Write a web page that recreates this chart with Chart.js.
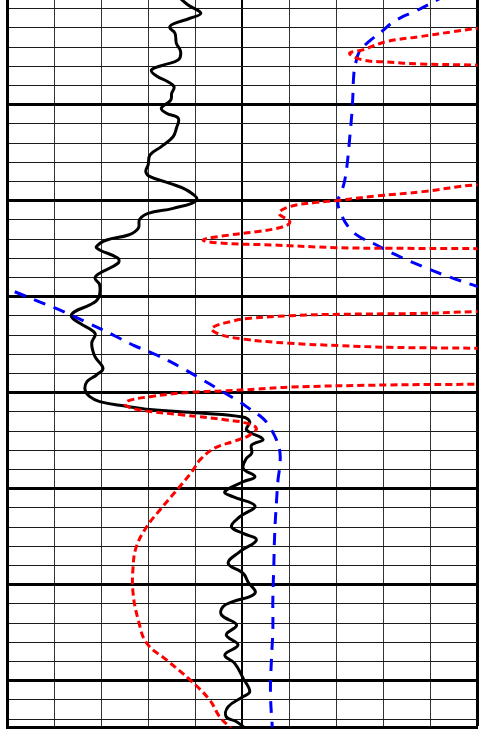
<!DOCTYPE html>
<html>
<head>
<meta charset="utf-8">
<script src="https://cdn.jsdelivr.net/npm/chart.js@4.4.1/dist/chart.umd.min.js"></script>
<style>
  html, body { margin: 0; padding: 0; background: #fff; overflow: hidden; }
  canvas { display: block; }
</style>
</head>
<body>
<canvas id="logChart" width="479" height="729"></canvas>
<script>
// depth window and grid ticks (ft)
const depthTop = 995.5;
const depthBottom = 1374.4;
const depthTicks = [1000, 1010, 1020, 1030, 1040, 1050, 1060, 1070, 1080, 1090,
    1100, 1110, 1120, 1130, 1140, 1150, 1160, 1170, 1180, 1190,
    1200, 1210, 1220, 1230, 1240, 1250, 1260, 1270, 1280, 1290,
    1300, 1310, 1320, 1330, 1340, 1350, 1360, 1370];
const majorDepths = [1050, 1100, 1150, 1200, 1250, 1300, 1350];
const trackTicks = [0, 10, 20, 30, 40, 50, 60, 70, 80, 90, 100];

// black curve (gamma ray), track percent
const grDepth = [994, 998.1, 1002.4, 1005.0, 1008.0, 1009.9, 1012.8, 1018.1, 1022.4, 1026.7,
    1029.4, 1032.0, 1035.1, 1038.1, 1040.7, 1044.1, 1047.6, 1051.9, 1054.5, 1057.1,
    1062.3, 1066.7, 1071.9, 1076.2, 1081.4, 1084.9, 1087.5, 1091.0, 1094.5, 1099.7,
    1104.0, 1106.6, 1109.7, 1114.4, 1117.9, 1120.5, 1124.0, 1125.7, 1130.0, 1132.6,
    1137.8, 1140.4, 1143.9, 1150.9, 1154.3, 1157.8, 1160.4, 1163.9, 1169.1, 1174.3,
    1181.3, 1187.3, 1190.8, 1194.3, 1198.6, 1202.1, 1204.7, 1207.0, 1208.8, 1210.6,
    1212.7, 1215.3, 1219.4, 1224.3, 1227.3, 1231.6, 1234.2, 1239.4, 1243.8, 1246.4,
    1251.6, 1254.2, 1259.0, 1264.6, 1269.8, 1273.3, 1276.7, 1282.8, 1288.9, 1294.1,
    1298.5, 1304.5, 1308.9, 1311.5, 1315.8, 1321.0, 1326.2, 1331.4, 1336.6, 1341.0,
    1348.8, 1355.7, 1358.3, 1363.6, 1368.8, 1371.4, 1374.0, 1376.7];
const grValue = [36.5, 38.5, 41.2, 38.9, 35.3, 34.6, 35.7, 36.0, 36.9, 36.4,
    33.2, 30.7, 31.8, 34.2, 35.5, 35.0, 34.8, 32.8, 33.9, 36.4,
    36.0, 35.3, 32.8, 30.4, 30.0, 29.5, 30.4, 34.6, 38.2, 40.3,
    35.3, 30.0, 28.2, 27.9, 25.8, 21.2, 19.0, 19.7, 23.6, 23.6,
    19.7, 18.7, 19.7, 19.4, 17.6, 14.4, 13.7, 15.5, 18.7, 18.0,
    18.7, 20.4, 19.0, 17.0, 16.6, 17.6, 19.7, 25.1, 30.4, 41.0,
    50.1, 51.6, 50.9, 54.4, 52.0, 52.0, 50.9, 50.2, 52.7, 50.2,
    46.3, 48.0, 52.7, 49.5, 47.7, 50.2, 53.0, 49.5, 47.0, 50.2,
    51.2, 52.7, 48.0, 45.9, 45.6, 48.8, 46.6, 49.1, 46.3, 48.4,
    50.2, 51.6, 50.2, 47.0, 46.6, 48.8, 50.2, 51.2];

// red curve (resistivity), runs past the right edge of the track
const resDepth = [1005.9, 1010.2, 1012.0, 1014.6, 1017.2, 1021.5, 1023.3, 1026.7, 1027.8, 1028.8,
    1029.4, 1030.9, 1090.3, 1091.8, 1095.3, 1097.6, 1100.0, 1100.9, 1103.1, 1106.6,
    1111.0, 1113.6, 1116.2, 1117.9, 1120.5, 1122.2, 1123.1, 1124.5, 1124.8, 1125.0,
    1125.7, 1156.9, 1157.8, 1158.7, 1159.2, 1159.9, 1161.3, 1162.7, 1166.5, 1169.6,
    1172.1, 1174.3, 1175.5, 1176.4, 1176.9, 1177.8, 1195.0, 1195.6, 1196.0, 1197.1,
    1198.2, 1199.1, 1199.8, 1202.1, 1204.3, 1206.4, 1209.0, 1211.6, 1214.2, 1215.9,
    1218.6, 1222.1, 1225.3, 1228.8, 1234.5, 1240.8, 1249.0, 1261.1, 1269.8, 1280.2,
    1290.6, 1304.5, 1318.4, 1330.5, 1339.2, 1349.6, 1360.1, 1368.8, 1375.2];
const resValue = [117.4, 100.2, 94.8, 87.7, 80.6, 75.6, 72.8, 75.6, 80.6, 87.7,
    99.7, 117.4, 117.4, 99.7, 88.4, 78.5, 70.0, 65.8, 60.1, 57.8,
    60.1, 58.7, 53.0, 47.3, 41.7, 45.9, 56.5, 70.0, 81.3, 99.7,
    117.4, 117.4, 99.7, 88.4, 70.7, 60.1, 51.6, 48.0, 43.5, 45.2,
    50.2, 60.1, 70.7, 81.3, 99.7, 117.4, 117.4, 99.7, 81.3, 60.1,
    53.0, 45.9, 38.9, 30.4, 25.7, 25.1, 28.2, 37.4, 46.6, 50.9,
    53.0, 51.6, 48.3, 44.2, 41.2, 39.4, 36.7, 32.5, 29.7, 27.5,
    26.8, 26.8, 27.9, 29.7, 33.9, 38.9, 43.1, 45.2, 47.8];

// blue curve (SP), wraps from the right edge back to the left
const spDepth = [992.9, 1001.6, 1004.2, 1007.6, 1012.0, 1017.2, 1022.4, 1028.5, 1034.6, 1045.9,
    1054.5, 1068.4, 1078.8, 1089.2, 1095.3, 1100.5, 1107.5, 1114.4, 1118.8, 1122.2,
    1128.3, 1134.4, 1139.2, 1143.9, 1147.6, null, 1143.2, 1147.1, 1153.5, 1157.8,
    1164.2, 1170.0, 1175.2, 1180.4, 1186.5, 1192.5, 1198.6, 1204.9, 1208.5, 1213.4,
    1217.7, 1224.7, 1230.9, 1237.7, 1245.5, 1255.9, 1273.1, 1290.8, 1308.0, 1323.6,
    1339.2, 1356.4, 1375.2];
const spValue = [93.4, 86.6, 84.1, 81.7, 79.6, 76.9, 74.9, 74.1, 73.7, 73.5,
    73.3, 72.8, 72.4, 71.8, 71.1, 70.3, 71.1, 72.8, 74.9, 77.8,
    82.7, 88.4, 93.4, 99.0, 103.6, null, -2.5, 1.3, 7.7, 12.0,
    17.6, 22.6, 26.8, 31.8, 36.7, 41.0, 45.2, 49.5, 51.6, 54.4,
    55.8, 57.3, 58.0, 58.0, 57.6, 57.3, 56.9, 56.7, 56.5, 56.5,
    56.2, 56.0, 56.4];

function toPoints(depths, values) {
    return depths.map((d, i) => ({ x: values[i], y: d }));
}

document.addEventListener('DOMContentLoaded', function () {
    const ctx = document.getElementById('logChart').getContext('2d');

    new Chart(ctx, {
        type: 'line',
        data: {
            datasets: [{
                label: 'RES',
                data: toPoints(resDepth, resValue),
                borderColor: '#ff0000',
                borderWidth: 3,
                borderDash: [7, 4],
                tension: 0.4,
                clip: 0
            }, {
                label: 'SP',
                data: toPoints(spDepth, spValue),
                borderColor: '#0000ff',
                borderWidth: 3,
                borderDash: [12, 9],
                tension: 0.4,
                spanGaps: false,
                clip: 0
            }, {
                label: 'GR',
                data: toPoints(grDepth, grValue),
                borderColor: '#000000',
                borderWidth: 3,
                tension: 0.4,
                clip: 0
            }]
        },
        options: {
            animation: false,
            responsive: false,
            indexAxis: 'y',
            layout: { padding: { left: 7, right: 1.5, top: 0, bottom: 1.5 } },
            plugins: {
                legend: { display: false },
                tooltip: { enabled: false }
            },
            elements: {
                point: { radius: 0 },
                line: { capBezierPoints: false, borderJoinStyle: 'round' }
            },
            scales: {
                x: {
                    type: 'linear',
                    position: 'bottom',
                    min: 0,
                    max: 100,
                    afterBuildTicks: axis => { axis.ticks = trackTicks.map(v => ({ value: v })); },
                    ticks: { display: false },
                    grid: {
                        drawTicks: false,
                        color: c => c.tick.value === 0 ? 'rgba(0,0,0,0)' : (c.tick.value === 50 || c.tick.value === 100 ? '#000' : '#333'),
                        lineWidth: c => c.tick.value === 100 ? 3 : (c.tick.value === 50 ? 2 : 1)
                    },
                    border: { display: true, color: '#000', width: 3 }
                },
                y: {
                    type: 'linear',
                    position: 'left',
                    reverse: true,
                    min: depthTop,
                    max: depthBottom,
                    afterBuildTicks: axis => { axis.ticks = depthTicks.map(v => ({ value: v })); },
                    ticks: { display: false },
                    grid: {
                        drawTicks: false,
                        color: c => majorDepths.includes(c.tick.value) ? '#000' : '#1a1a1a',
                        lineWidth: c => majorDepths.includes(c.tick.value) ? 3 : 1
                    },
                    border: { display: true, color: '#000', width: 3 }
                }
            }
        }
    });
});
</script>
</body>
</html>
